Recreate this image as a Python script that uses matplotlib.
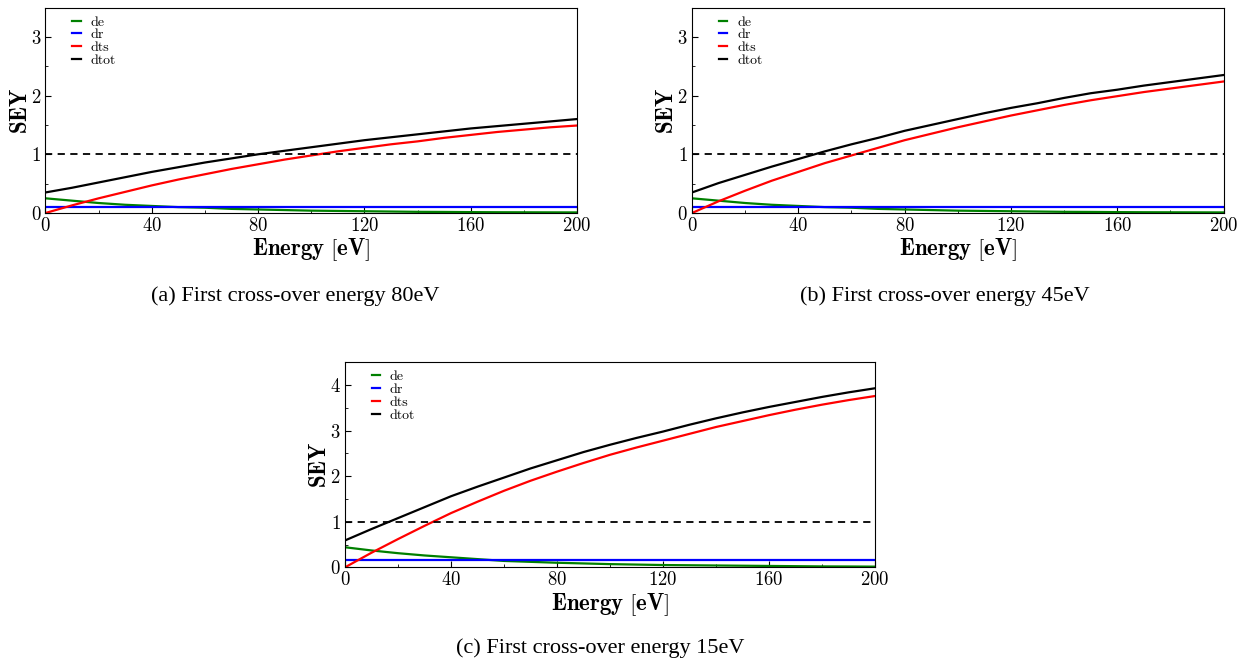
import numpy as np
import matplotlib
matplotlib.use("Agg")
from matplotlib import pyplot as plt
from matplotlib.ticker import MultipleLocator

# energia [eV]
energy = [0, 10, 20, 30, 40, 50, 60, 70, 80, 90, 100,
          110, 120, 130, 140, 150, 160, 170, 180, 190, 200]

# (a) cross-over 80 eV
de_a = [0.25, 0.21, 0.17, 0.14, 0.12, 0.10, 0.09, 0.07, 0.06, 0.05, 0.04,
        0.035, 0.03, 0.025, 0.02, 0.018, 0.015, 0.013, 0.012, 0.011, 0.01]
dr_a = [0.1] * 21
dts_a = [0.0, 0.13, 0.25, 0.36, 0.47, 0.57, 0.66, 0.75, 0.83, 0.91, 0.98,
         1.05, 1.11, 1.17, 1.22, 1.28, 1.33, 1.38, 1.42, 1.46, 1.49]
dtot_a = [0.35, 0.43, 0.52, 0.61, 0.70, 0.78, 0.86, 0.93, 1.00, 1.06, 1.12,
          1.18, 1.24, 1.29, 1.34, 1.39, 1.44, 1.48, 1.52, 1.56, 1.60]

# (b) cross-over 45 eV
de_b = [0.25, 0.21, 0.17, 0.14, 0.12, 0.10, 0.09, 0.07, 0.06, 0.05, 0.04,
        0.035, 0.03, 0.025, 0.02, 0.018, 0.015, 0.013, 0.012, 0.011, 0.01]
dr_b = [0.1] * 21
dts_b = [0.0, 0.20, 0.38, 0.55, 0.70, 0.85, 0.98, 1.11, 1.24, 1.35, 1.46,
         1.56, 1.66, 1.75, 1.84, 1.92, 1.99, 2.06, 2.12, 2.18, 2.24]
dtot_b = [0.35, 0.51, 0.65, 0.79, 0.92, 1.05, 1.17, 1.28, 1.40, 1.50, 1.60,
          1.70, 1.79, 1.87, 1.96, 2.04, 2.10, 2.17, 2.23, 2.29, 2.35]

# (c) cross-over 15 eV
de_c = [0.44, 0.37, 0.31, 0.26, 0.22, 0.18, 0.14, 0.12, 0.10, 0.085, 0.07,
        0.06, 0.05, 0.045, 0.04, 0.035, 0.03, 0.025, 0.02, 0.018, 0.015]
dr_c = [0.15] * 21
dts_c = [0.0, 0.32, 0.62, 0.91, 1.19, 1.44, 1.68, 1.90, 2.10, 2.29, 2.47,
         2.63, 2.78, 2.93, 3.08, 3.21, 3.34, 3.46, 3.57, 3.67, 3.76]
dtot_c = [0.59, 0.84, 1.08, 1.32, 1.56, 1.77, 1.97, 2.17, 2.35, 2.53, 2.69,
          2.84, 2.98, 3.13, 3.27, 3.40, 3.52, 3.63, 3.74, 3.84, 3.93]

captions = ["(a) First cross-over energy 80eV",
            "(b) First cross-over energy 45eV",
            "(c) First cross-over energy 15eV"]
ylims = [3.5, 3.5, 4.5]

plt.rcParams['font.family'] = 'serif'
plt.rcParams['font.serif'] = ['cmr10']
plt.rcParams['mathtext.fontset'] = 'cm'
plt.rcParams['axes.formatter.use_mathtext'] = True

fig = plt.figure(figsize=(12.46, 6.65), dpi=100)
pos = [[0.0365, 0.6797, 0.4266, 0.3090],
       [0.5554, 0.6797, 0.4266, 0.3090],
       [0.2769, 0.1469, 0.4254, 0.3083]]
dados = [(de_a, dr_a, dts_a, dtot_a),
         (de_b, dr_b, dts_b, dtot_b),
         (de_c, dr_c, dts_c, dtot_c)]


def painel(ax, de, dr, dts, dtot, ymax):
    ax.plot(energy, de, color='green', lw=1.6, label='de')
    ax.plot(energy, dr, color='blue', lw=1.6, label='dr')
    ax.plot(energy, dts, color='red', lw=1.6, label='dts')
    ax.plot(energy, dtot, color='black', lw=1.6, label='dtot')
    ax.axhline(1, color='black', lw=1.3, ls=(0, (4, 3)))
    ax.set_xlim(0, 200)
    ax.set_ylim(0, ymax)
    ax.xaxis.set_major_locator(MultipleLocator(40))
    ax.xaxis.set_minor_locator(MultipleLocator(20))
    ax.yaxis.set_major_locator(MultipleLocator(1))
    ax.yaxis.set_minor_locator(MultipleLocator(0.5))
    ax.tick_params(which='both', direction='in', labelsize=13.5)
    ax.tick_params(axis='x', pad=3)
    ax.tick_params(axis='y', pad=3)
    ax.tick_params(which='major', length=4)
    ax.tick_params(which='minor', length=2)
    ax.set_xlabel(r'$\mathbf{Energy\ [eV]}$', fontsize=16.5, labelpad=1)
    ax.set_ylabel(r'$\mathbf{SEY}$', fontsize=16.5, labelpad=0)
    ax.legend(loc='upper left', frameon=False, fontsize=10, handlelength=0.6,
              handletextpad=0.7, labelspacing=0.0, borderaxespad=0.2,
              bbox_to_anchor=(0.035, 1.0))


for i in range(3):
    ax = fig.add_axes(pos[i])
    de, dr, dts, dtot = dados[i]
    painel(ax, de, dr, dts, dtot, ylims[i])

fig.text(295 / 1246, 1 - 296 / 665, captions[0], family='Liberation Serif',
         fontsize=16, ha='center', va='center')
fig.text(945 / 1246, 1 - 296 / 665, captions[1], family='Liberation Serif',
         fontsize=16, ha='center', va='center')
fig.text(600 / 1246, 1 - 648 / 665, captions[2], family='Liberation Serif',
         fontsize=16, ha='center', va='center')

fig.savefig('out.png', dpi=100)
